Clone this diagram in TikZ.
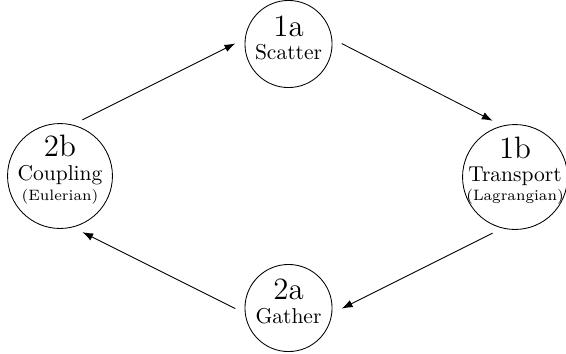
\documentclass[tikz,border=0pt]{standalone}
\usetikzlibrary{arrows.meta}

\begin{document}
\begin{tikzpicture}[x=0.4651pt, y=-0.4651pt,
    phase/.style={draw, circle, inner sep=0pt, minimum size=40.5pt},
    wide/.style={minimum size=48.8pt},
    tag/.style={align=center, inner sep=0pt, yshift=3pt},
    flow/.style={-{Latex[length=5pt,width=3.6pt]}, shorten <=5pt, shorten >=5pt}]
    \useasboundingbox (0,0) rectangle (566,353);
    \node[phase, label={[tag]center:{{\Large 1a}\\[-1.3pt]Scatter}}] (scatter) at (288.5,44) {};
    \node[phase, wide, label={[tag]center:{{\Large 1b}\\[-1pt]Transport\\[-3.3pt]{\scriptsize (Lagrangian)}}}] (transport) at (515,177) {};
    \node[phase, label={[tag]center:{{\Large 2a}\\[-0.8pt]Gather}}] (gather) at (288.5,308) {};
    \node[phase, wide, label={[tag]center:{{\Large 2b}\\[-0.7pt]Coupling\\[-3pt]{\scriptsize (Eulerian)}}}] (coupling) at (60,176) {};
    % one cycle: scatter, transport, gather, coupling
    \foreach \from/\to in {coupling.76/scatter.173, scatter.7/transport.104, transport.-104/gather.-7, gather.187/coupling.-76}{
      \draw[flow] (\from) -- (\to);
    }
\end{tikzpicture}
\end{document}
